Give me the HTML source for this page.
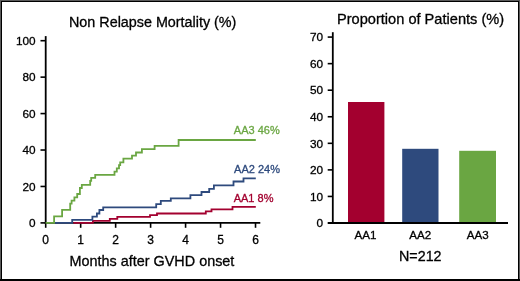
<!DOCTYPE html>
<html><head><meta charset="utf-8"><style>
html,body{margin:0;padding:0;background:#fff;}
#f{position:absolute;left:0;top:0;width:520px;height:281px;overflow:hidden;background:#fff;}
svg{position:absolute;left:0;top:0;will-change:transform;}
text{font-family:"Liberation Sans",sans-serif;fill:#000;stroke:#000;stroke-width:0.3px;}
.t{font-size:14.3px;}
.yl{font-size:11.8px;}
.xl{font-size:12px;}
.cl{font-size:11px;}
.bl{font-size:11.6px;}
.b{position:absolute;}
</style></head><body><div id="f">
<svg width="520" height="281" viewBox="0 0 520 281">
<line x1="45.7" y1="36.1" x2="45.7" y2="223.8" stroke="#000" stroke-width="1.8"/>
<line x1="44.8" y1="222.9" x2="260.3" y2="222.9" stroke="#000" stroke-width="1.8"/>
<line x1="40.5" y1="222.90" x2="45.7" y2="222.90" stroke="#000" stroke-width="1.6"/>
<text x="35.6" y="227.10" class="yl" text-anchor="end">0</text>
<line x1="40.5" y1="186.46" x2="45.7" y2="186.46" stroke="#000" stroke-width="1.6"/>
<text x="35.6" y="190.66" class="yl" text-anchor="end">20</text>
<line x1="40.5" y1="150.02" x2="45.7" y2="150.02" stroke="#000" stroke-width="1.6"/>
<text x="35.6" y="154.22" class="yl" text-anchor="end">40</text>
<line x1="40.5" y1="113.58" x2="45.7" y2="113.58" stroke="#000" stroke-width="1.6"/>
<text x="35.6" y="117.78" class="yl" text-anchor="end">60</text>
<line x1="40.5" y1="77.14" x2="45.7" y2="77.14" stroke="#000" stroke-width="1.6"/>
<text x="35.6" y="81.34" class="yl" text-anchor="end">80</text>
<line x1="40.5" y1="40.70" x2="45.7" y2="40.70" stroke="#000" stroke-width="1.6"/>
<text x="35.6" y="44.90" class="yl" text-anchor="end">100</text>
<line x1="45.70" y1="222.9" x2="45.70" y2="227.8" stroke="#000" stroke-width="1.6"/>
<text x="45.70" y="243.9" class="xl" text-anchor="middle">0</text>
<line x1="80.67" y1="222.9" x2="80.67" y2="227.8" stroke="#000" stroke-width="1.6"/>
<text x="80.67" y="243.9" class="xl" text-anchor="middle">1</text>
<line x1="115.64" y1="222.9" x2="115.64" y2="227.8" stroke="#000" stroke-width="1.6"/>
<text x="115.64" y="243.9" class="xl" text-anchor="middle">2</text>
<line x1="150.61" y1="222.9" x2="150.61" y2="227.8" stroke="#000" stroke-width="1.6"/>
<text x="150.61" y="243.9" class="xl" text-anchor="middle">3</text>
<line x1="185.58" y1="222.9" x2="185.58" y2="227.8" stroke="#000" stroke-width="1.6"/>
<text x="185.58" y="243.9" class="xl" text-anchor="middle">4</text>
<line x1="220.55" y1="222.9" x2="220.55" y2="227.8" stroke="#000" stroke-width="1.6"/>
<text x="220.55" y="243.9" class="xl" text-anchor="middle">5</text>
<line x1="255.52" y1="222.9" x2="255.52" y2="227.8" stroke="#000" stroke-width="1.6"/>
<text x="255.52" y="243.9" class="xl" text-anchor="middle">6</text>
<polyline points="73.3,222.8 92.9,222.8 92.9,220.9 109.8,220.9 109.8,218.9 117.3,218.9 117.3,216.9 150.0,216.9 150.0,215.2 157.0,215.2 157.0,213.5 205.8,213.5 205.8,211.4 211.5,211.4 211.5,209.4 232.5,209.4 232.5,206.9 255.8,206.9" fill="none" stroke="#a3002f" stroke-width="1.8"/>
<polyline points="54.6,222.8 72.2,222.8 72.2,219.8 92.4,219.8 92.4,216.7 96.9,216.7 96.9,213.5 99.4,213.5 99.4,210.0 103.2,210.0 103.2,207.3 156.2,207.3 156.2,204.2 160.8,204.2 160.8,200.8 170.8,200.8 170.8,198.3 190.4,198.3 190.4,195.1 201.5,195.1 201.5,192.0 209.2,192.0 209.2,188.8 213.9,188.8 213.9,185.4 233.5,185.4 233.5,181.5 243.5,181.5 243.5,178.3 255.8,178.3" fill="none" stroke="#2e4a7d" stroke-width="1.8"/>
<polyline points="45.6,222.9 54.1,222.9 54.1,216.4 62.1,216.4 62.1,209.9 70.2,209.9 70.2,203.6 71.6,203.6 71.6,200.7 74.4,200.7 74.4,197.3 77.2,197.3 77.2,194.0 79.9,194.0 79.9,188.0 81.8,188.0 81.8,184.8 90.2,184.8 90.2,180.8 91.2,180.8 91.2,177.9 95.2,177.9 95.2,174.8 114.5,174.8 114.5,171.6 116.8,171.6 116.8,168.4 119.0,168.4 119.0,165.1 120.2,165.1 120.2,162.3 123.4,162.3 123.4,158.6 132.0,158.6 132.0,155.6 136.0,155.6 136.0,152.5 141.9,152.5 141.9,149.1 154.6,149.1 154.6,145.8 178.6,145.8 178.6,140.0 255.8,140.0" fill="none" stroke="#6aa642" stroke-width="1.8"/>
<text x="233.8" y="134.2" class="cl" style="fill:#6aa642;stroke:#6aa642">AA3 46%</text>
<text x="234.1" y="172.8" class="cl" style="fill:#2e4a7d;stroke:#2e4a7d">AA2 24%</text>
<text x="233.7" y="201.9" class="cl" style="fill:#a3002f;stroke:#a3002f">AA1 8%</text>
<text x="69" y="27.1" class="t" style="font-size:14.35px">Non Relapse Mortality (%)</text>
<text x="69.6" y="265.5" class="t" style="font-size:14.4px">Months after GVHD onset</text>
<rect x="348" y="102" width="36.4" height="120.6" fill="#a3002f"/>
<rect x="402.2" y="148.8" width="36.3" height="73.8" fill="#2e4a7d"/>
<rect x="459.2" y="150.8" width="36.8" height="71.8" fill="#6aa642"/>
<line x1="332.8" y1="32.2" x2="332.8" y2="223.8" stroke="#000" stroke-width="1.8"/>
<line x1="327.9" y1="223" x2="508" y2="223" stroke="#000" stroke-width="1.8"/>
<line x1="327.7" y1="223.00" x2="332.8" y2="223.00" stroke="#000" stroke-width="1.6"/>
<text x="323" y="227.20" class="yl" text-anchor="end">0</text>
<line x1="327.7" y1="196.44" x2="332.8" y2="196.44" stroke="#000" stroke-width="1.6"/>
<text x="323" y="200.64" class="yl" text-anchor="end">10</text>
<line x1="327.7" y1="169.88" x2="332.8" y2="169.88" stroke="#000" stroke-width="1.6"/>
<text x="323" y="174.08" class="yl" text-anchor="end">20</text>
<line x1="327.7" y1="143.32" x2="332.8" y2="143.32" stroke="#000" stroke-width="1.6"/>
<text x="323" y="147.52" class="yl" text-anchor="end">30</text>
<line x1="327.7" y1="116.76" x2="332.8" y2="116.76" stroke="#000" stroke-width="1.6"/>
<text x="323" y="120.96" class="yl" text-anchor="end">40</text>
<line x1="327.7" y1="90.20" x2="332.8" y2="90.20" stroke="#000" stroke-width="1.6"/>
<text x="323" y="94.40" class="yl" text-anchor="end">50</text>
<line x1="327.7" y1="63.64" x2="332.8" y2="63.64" stroke="#000" stroke-width="1.6"/>
<text x="323" y="67.84" class="yl" text-anchor="end">60</text>
<line x1="327.7" y1="37.08" x2="332.8" y2="37.08" stroke="#000" stroke-width="1.6"/>
<text x="323" y="41.28" class="yl" text-anchor="end">70</text>
<text x="365.5" y="238.7" class="bl" text-anchor="middle">AA1</text>
<text x="420.3" y="238.7" class="bl" text-anchor="middle">AA2</text>
<text x="477.8" y="238.7" class="bl" text-anchor="middle">AA3</text>
<text x="420.3" y="260.6" class="t" text-anchor="middle">N=212</text>
<text x="337" y="23.6" class="t" style="font-size:14.6px">Proportion of Patients (%)</text>
</svg>
<div class="b" style="left:0;top:0;width:520px;height:1px;background:#5a5a5a"></div>
<div class="b" style="left:0;top:0;width:1px;height:281px;background:#5a5a5a"></div>
<div class="b" style="left:519px;top:0;width:1px;height:281px;background:#5a5a5a"></div>
<div class="b" style="left:1px;top:1px;width:518px;height:1px;background:#000"></div>
<div class="b" style="left:1px;top:1px;width:1px;height:280px;background:#000"></div>
<div class="b" style="left:518px;top:1px;width:1px;height:280px;background:#000"></div>
<div class="b" style="left:0;top:279px;width:520px;height:2px;background:#000"></div>
</div></body></html>
